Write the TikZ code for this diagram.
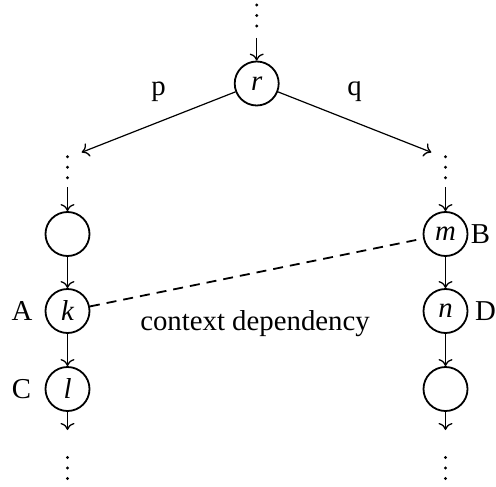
\documentclass[tikz,border=0pt]{standalone}
\usepackage{fontspec}
\setmainfont{Liberation Serif}
\usetikzlibrary{arrows.meta}
\begin{document}
\begin{tikzpicture}[x=0.5pt,y=-0.5pt,
  every node/.style={font=\fontsize{14.4}{17}\selectfont},
  state/.style={circle, draw, line width=0.9pt, minimum size=22pt, inner sep=0pt,
    font=\fontsize{14.4}{17}\selectfont\itshape},
  vd/.style={rectangle, minimum width=14.2pt, minimum height=15pt, inner sep=0pt, outer sep=0pt},
  conn/.style={line width=0.6pt, -{Computer Modern Rightarrow[length=3.5pt,width=7pt,line width=0.65pt]}},
  dep/.style={line width=0.9pt, dash pattern=on 5pt off 3.5pt},
  lab/.style={anchor=base, inner sep=0pt}
]
\useasboundingbox (0,0) rectangle (496,486);
% dot columns
\node[vd] (tv) at (256.7,15.5) {};
\node[vd] (lv) at (67.5,167.3) {};
\node[vd] (rv) at (445.5,167.3) {};
\node[vd] (lb) at (67.5,468) {};
\node[vd] (rb) at (445.5,468) {};
\foreach \n in {tv,lv,rv,lb,rb}
  \foreach \d in {-1,0,1}
    \fill ([yshift=\d*5.25pt]\n.center) circle[radius=0.8pt];
% states
\node[state] (r) at (256.7,83.5) {r};
\node[state] (e1) at (67.5,234) {};
\node[state] (k) at (67.5,311) {k};
\node[state] (l) at (67.5,389) {l};
\node[state] (m) at (445.5,234) {m};
\node[state] (n) at (445.5,311) {n};
\node[state] (e2) at (445.5,389) {};
% labels
\node[lab] (lp) at (158.5,96) {p};
\node[lab] (lq) at (354.5,96) {q};
\node[lab] (lA) at (22,320) {A};
\node[lab] (lC) at (21.5,398) {C};
\node[lab] (lB) at (480.5,243) {B};
\node[lab] (lD) at (485.5,320) {D};
\node[lab] (ctx) at (255,330) {context dependency};
% connectors
\draw[conn, shorten <=3.75pt] (tv) -- (r);
\draw[conn] (r) -- (lv.north east);
\draw[conn] (r) -- (rv.north west);
\draw[conn, shorten <=2.4pt] (lv) -- (e1);
\draw[conn] (e1) -- (k);
\draw[conn] (k) -- (l);
\draw[conn, shorten >=11.5pt] (l) -- (lb);
\draw[conn, shorten <=2.4pt] (rv) -- (m);
\draw[conn] (m) -- (n);
\draw[conn] (n) -- (e2);
\draw[conn, shorten >=11.5pt] (e2) -- (rb);
\draw[dep] (k) -- (m);
\end{tikzpicture}
\end{document}
